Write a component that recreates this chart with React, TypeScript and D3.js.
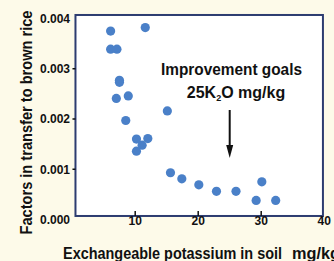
import React from "react";
import * as d3 from "d3";

// exchangeable potassium in soil (mg/kg) vs transfer factor to brown rice
const potassium = [
  6.1, 11.6, 6.1, 7.1, 7.5, 7.5, 7.0, 8.9, 15.1, 8.5, 10.2,
  12.0, 11.1, 10.2, 15.6, 17.4, 20.1, 22.9, 26.0, 30.1, 29.2, 32.3,
];
const transfer = [
  0.00375, 0.00382, 0.00339, 0.00339, 0.00277, 0.00273, 0.00241, 0.00246,
  0.00216, 0.00197, 0.0016, 0.00161, 0.00148, 0.00136, 0.00093, 0.00081,
  0.00069, 0.00056, 0.00056, 0.00075, 0.00038, 0.00038,
];

const xTicks = [10, 20, 30];
const xTickLabels = ["10", "20", "30", "40"];
const yTickLabels = ["0.000", "0.001", "0.002", "0.003", "0.004"];
const goalK = 25;

const W = 334;
const H = 261;
const font = "'Liberation Sans Narrow', 'Liberation Sans', Arial, sans-serif";

const App = () => {
  const x = d3.scaleLinear().domain([0, 40]).range([72.2, 324.2]);
  const y = d3.scaleLinear().domain([0, 0.004]).range([219.5, 18.5]);

  const fx0 = x(0.52);
  const fx1 = x(39.8);
  const fy0 = y(0.00407);
  const fy1 = y(0.00007);

  return (
    <svg
      width={W}
      height={H}
      style={{ position: "fixed", left: 0, top: 0, display: "block" }}
      fontFamily={font}
    >
      <rect width={W} height={H} fill="#fdfae9" />
      <rect
        x={fx0}
        y={fy0}
        width={fx1 - fx0}
        height={fy1 - fy0}
        fill="#ffffff"
        stroke="#2d3c70"
        strokeWidth={2}
      />

      {/* y ticks */}
      {y.ticks(4).map((t, i) => (
        <g key={"y" + i}>
          {i > 0 && i < 4 && (
            <line x1={fx0 - 3} x2={fx0} y1={y(t)} y2={y(t)} stroke="#111" strokeWidth={1.5} />
          )}
          <text
            x={70}
            y={y(t)}
            dy="0.36em"
            textAnchor="end"
            fontSize={12}
            fontWeight="bold"
            fill="#111"
          >
            {yTickLabels[i]}
          </text>
        </g>
      ))}

      {/* x ticks */}
      {xTicks.map((t) => (
        <line key={"xt" + t} x1={x(t)} x2={x(t)} y1={fy1} y2={fy1 - 5} stroke="#111" strokeWidth={1.5} />
      ))}
      {xTickLabels.map((s) => (
        <text
          key={"xl" + s}
          x={x(+s)}
          y={225}
          textAnchor="middle"
          fontSize={12}
          fontWeight="bold"
          fill="#111"
        >
          {s}
        </text>
      ))}

      {/* points */}
      {potassium.map((k, i) => (
        <circle key={i} cx={x(k)} cy={y(transfer[i])} r={4.6} fill="#4a80c8" />
      ))}

      {/* annotation */}
      <text
        x={231.5}
        y={75}
        textAnchor="middle"
        fontSize={16}
        fontWeight="bold"
        fill="#111"
        textLength={141}
        lengthAdjust="spacingAndGlyphs"
      >
        Improvement goals
      </text>
      <text x={236} y={98} textAnchor="middle" fontSize={16} fontWeight="bold" fill="#111">
        <tspan>25K</tspan>
        <tspan fontSize={9} dy={3}>2</tspan>
        <tspan dy={-3}>O mg/kg</tspan>
      </text>
      <line x1={x(goalK)} x2={x(goalK)} y1={110} y2={150} stroke="#111" strokeWidth={2} />
      <path
        d={`M${x(goalK) - 3.5},${145} L${x(goalK) + 3.5},${145} L${x(goalK)},${158} Z`}
        fill="#111"
      />

      {/* axis titles */}
      <text
        transform="translate(32,122.5) rotate(-90)"
        textAnchor="middle"
        fontSize={16}
        fontWeight="bold"
        fill="#111"
        textLength={224}
        lengthAdjust="spacingAndGlyphs"
      >
        Factors in transfer to brown rice
      </text>
      <text
        x={63}
        y={258.5}
        fontSize={17}
        fontWeight="bold"
        fill="#111"
        textLength={219}
        lengthAdjust="spacingAndGlyphs"
      >
        Exchangeable potassium in soil
      </text>
      <text
        x={292}
        y={258.5}
        fontSize={17}
        fontWeight="bold"
        fill="#111"
        textLength={48}
        lengthAdjust="spacingAndGlyphs"
      >
        mg/kg
      </text>
    </svg>
  );
};

export default App;
